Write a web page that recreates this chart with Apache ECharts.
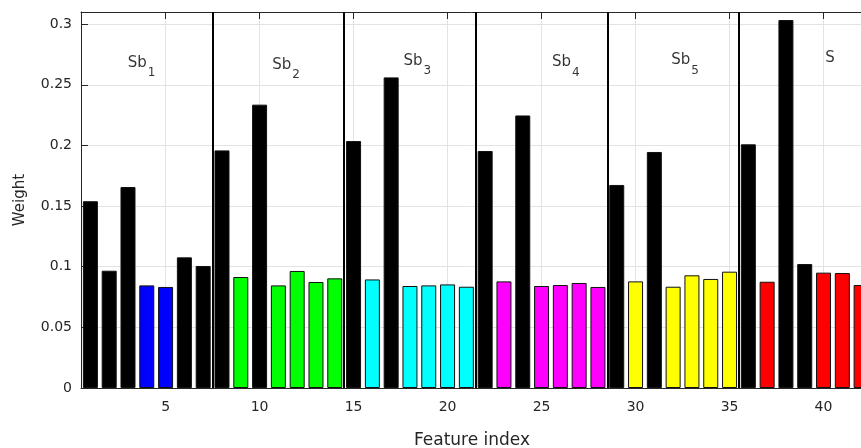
<!DOCTYPE html>
<html>
<head>
<meta charset="utf-8">
<script src="https://cdn.jsdelivr.net/npm/echarts@6/dist/echarts.min.js"></script>
<style>html,body{margin:0;padding:0;background:#fff}#c{width:861px;height:448px}</style>
</head>
<body>
<div id="c"></div>
<script>
// ---- data ----
const featureIndex = [1,2,3,4,5,6,7,8,9,10,11,12,13,14,15,16,17,18,19,20,21,22,23,24,25,26,27,28,29,30,31,32,33,34,35,36,37,38,39,40,41,42];
const weights = [0.154,0.0967,0.1657,0.0846,0.0833,0.1077,0.1006,0.1959,0.0915,0.2336,0.0846,0.0965,0.0874,0.0904,0.2036,0.0895,0.2561,0.0841,0.0846,0.0854,0.0835,0.1954,0.0879,0.2247,0.0841,0.0849,0.0866,0.0833,0.1674,0.0879,0.1946,0.0835,0.0929,0.0899,0.0959,0.2009,0.0876,0.3034,0.1022,0.0951,0.0948,0.0849];
const barGroup = ['k','k','k','b','b','k','k','k','g','k','g','g','g','g','k','c','k','c','c','c','c','k','m','k','m','m','m','m','k','y','k','y','y','y','y','k','r','k','k','r','r','r'];
const groupBoundaries = [7.5,14.5,21.5,28.5,35.5];
const xTicks = [5,10,15,20,25,30,35,40];
const yTicks = [0,0.05,0.1,0.15,0.2,0.25,0.3];
const blockNames = ['Sb','Sb','Sb','Sb','Sb','S'];
const blockSubs = ['1','2','3','4','5',''];
const blockLabelX = [2.99,10.67,17.66,25.56,31.9,40.09];
const blockLabelY = [0.268,0.2665,0.2693,0.2684,0.27,0.2723];

const palette = {k:'#000000', b:'#0000ff', g:'#00ff00', c:'#00ffff', m:'#ff00ff', y:'#ffff00', r:'#ff0000'};
const FONT = 'DejaVu Sans';
const AX = '#262626';

const chart = echarts.init(document.getElementById('c'));
chart.setOption({
  animation:false,
  backgroundColor:'#fff',
  grid:{left:81,right:-2,top:12,bottom:60,outerBoundsMode:'none',containLabel:false},
  xAxis:[{
    type:'value', min:0.5, max:42.1,
    name:'Feature index', nameLocation:'middle', nameGap:44,
    nameTextStyle:{fontFamily:FONT,fontSize:17,color:AX},
    axisLine:{show:true,onZero:false,lineStyle:{color:AX,width:1}},
    axisTick:{show:true,inside:true,length:7,customValues:xTicks,lineStyle:{color:AX}},
    axisLabel:{customValues:xTicks,margin:12,fontFamily:FONT,fontSize:14,color:AX},
    splitLine:{show:true,lineStyle:{color:'#e3e3e3',width:1}}
  },{
    type:'value', min:0.5, max:42.1, position:'top',
    axisLine:{show:true,onZero:false,lineStyle:{color:AX,width:1}},
    axisTick:{show:true,inside:true,length:7,customValues:xTicks,lineStyle:{color:AX}},
    axisLabel:{show:false,customValues:xTicks},
    splitLine:{show:false}
  }],
  yAxis:{
    type:'value', min:0, max:0.31,
    name:'Weight', nameLocation:'middle', nameGap:53,
    nameTextStyle:{fontFamily:FONT,fontSize:15,color:AX},
    axisLine:{show:true,lineStyle:{color:AX,width:1}},
    axisTick:{show:true,inside:true,length:7,customValues:yTicks,lineStyle:{color:AX}},
    axisLabel:{customValues:yTicks,margin:9,fontFamily:FONT,fontSize:14,color:AX,
      formatter:v=>String(+v.toFixed(2))},
    splitLine:{show:true,lineStyle:{color:'#e3e3e3',width:1}}
  },
  series:[{
    type:'bar',
    barWidth:15,
    data:featureIndex.map((x,i)=>({value:[x,weights[i]],itemStyle:{color:palette[barGroup[i]]}})),
    itemStyle:{borderColor:'#111',borderWidth:1},
    markLine:{
      silent:true, symbol:['none','none'], label:{show:false},
      lineStyle:{color:'#000',width:2,type:'solid'},
      data:groupBoundaries.map(v=>({xAxis:v}))
    }
  },{
    type:'scatter',
    symbolSize:0,
    silent:true,
    data:blockLabelX.map((x,i)=>[x,blockLabelY[i],i]),
    label:{
      show:true, position:[0,0], align:'left', verticalAlign:'middle',
      fontFamily:FONT, fontSize:15, color:'#000',
      formatter:p=>blockNames[p.data[2]]
    }
  },{
    type:'scatter',
    symbolSize:0,
    silent:true,
    data:blockLabelX.map((x,i)=>[x,blockLabelY[i],i]),
    label:{
      show:true, position:[0,0], offset:[20,10], align:'left', verticalAlign:'middle',
      fontFamily:FONT, fontSize:12, color:'#000',
      formatter:p=>blockSubs[p.data[2]]
    }
  }]
});
</script>
</body>
</html>
